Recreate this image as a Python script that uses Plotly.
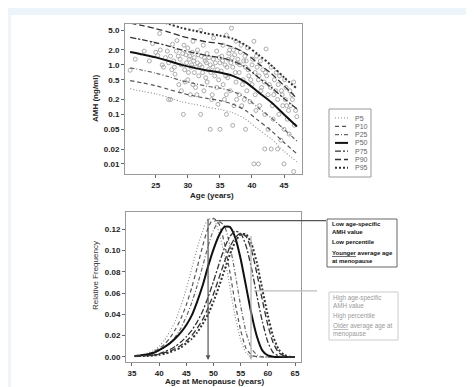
import plotly.graph_objects as go

W, H = 474, 387
def px(x):
    return x / W
def py(y):
    return 1 - y / H

# ---------------- Top panel data ----------------
pct_names = ["P5", "P10", "P25", "P50", "P75", "P90", "P95"]
curve_age = [21, 23, 25, 27, 29, 31, 33, 35, 37, 39, 41, 43, 45, 47]
amh_p5 = [0.33, 0.29, 0.26, 0.22, 0.18, 0.16, 0.14, 0.126, 0.108, 0.08, 0.05, 0.032, 0.018, 0.011]
amh_p10 = [0.48, 0.43, 0.38, 0.32, 0.27, 0.235, 0.21, 0.19, 0.16, 0.12, 0.075, 0.047, 0.027, 0.016]
amh_p25 = [0.87, 0.78, 0.68, 0.58, 0.48, 0.42, 0.37, 0.34, 0.29, 0.22, 0.135, 0.085, 0.05, 0.029]
amh_p50 = [1.83, 1.62, 1.42, 1.20, 1.00, 0.87, 0.77, 0.70, 0.60, 0.45, 0.28, 0.175, 0.10, 0.057]
amh_p75 = [3.6, 3.2, 2.8, 2.4, 2.0, 1.75, 1.55, 1.4, 1.2, 0.9, 0.56, 0.35, 0.21, 0.13]
amh_p90 = [7.0, 6.2, 5.4, 4.6, 3.8, 3.3, 2.9, 2.7, 2.3, 1.7, 1.06, 0.67, 0.38, 0.21]
amh_p95 = [10.2, 9.1, 8.0, 6.7, 5.6, 4.9, 4.3, 3.9, 3.4, 2.5, 1.6, 0.98, 0.56, 0.33]

pt_age = [21.0, 21.8, 23.2, 24.0, 24.5, 25.0, 25.3, 25.6, 25.7, 26.0, 26.2, 26.5, 26.8, 27.0, 27.0,
          27.3, 27.3, 27.5, 27.6, 27.8, 27.9, 28.0, 28.2, 28.3, 28.5, 28.6, 28.8, 29.0, 29.0, 29.2,
          29.3, 29.4, 29.5, 29.6, 29.7, 29.8, 30.0, 30.0, 30.1, 30.2, 30.3, 30.4, 30.5, 30.6, 30.7,
          30.8, 30.8, 30.9, 31.0, 31.0, 31.2, 31.3, 31.4, 31.5, 31.5, 31.6, 31.7, 31.9, 32.0, 32.0,
          32.1, 32.2, 32.3, 32.4, 32.5, 32.6, 32.7, 32.8, 32.9, 33.0, 33.0, 33.2, 33.3, 33.5, 33.5,
          33.6, 33.7, 33.8, 33.9, 34.0, 34.0, 34.2, 34.3, 34.5, 34.5, 34.6, 34.7, 34.8, 34.9, 35.0,
          35.0, 35.2, 35.3, 35.4, 35.5, 35.5, 35.7, 35.8, 35.9, 36.0, 36.0, 36.0, 36.1, 36.2, 36.3,
          36.4, 36.5, 36.6, 36.7, 36.8, 36.9, 37.0, 37.0, 37.1, 37.2, 37.3, 37.4, 37.5, 37.5, 37.6,
          37.7, 37.8, 38.0, 38.0, 38.1, 38.2, 38.3, 38.4, 38.5, 38.6, 38.7, 38.8, 38.9, 39.0, 39.0,
          39.1, 39.2, 39.3, 39.4, 39.5, 39.7, 39.8, 40.0, 40.0, 40.1, 40.3, 40.3, 40.5, 40.5, 40.6,
          40.7, 40.8, 41.0, 41.0, 41.1, 41.2, 41.3, 41.4, 41.5, 41.7, 41.9, 42.0, 42.0, 42.1, 42.2,
          42.3, 42.5, 42.5, 42.7, 42.9, 43.0, 43.0, 43.2, 43.3, 43.4, 43.5, 43.7, 43.8, 44.0, 44.0,
          44.1, 44.2, 44.3, 44.5, 44.6, 44.7, 44.8, 45.0, 45.0, 45.1, 45.2, 45.3, 45.4, 45.5, 45.7,
          45.8, 45.9, 46.0, 46.2, 46.3, 46.5, 46.5, 46.6, 46.8, 47.0]
pt_amh = [0.78, 1.3, 1.9, 1.2, 2.7, 1.8, 1.55, 4.3, 2.0, 1.0, 0.9, 1.4, 1.9, 0.2, 1.1,
          0.2, 1.5, 0.8, 2.6, 1.2, 0.9, 0.65, 1.9, 3.1, 1.5, 0.4, 1.3, 1.0, 0.3, 1.7,
          0.1, 2.5, 0.8, 0.45, 1.6, 1.1, 2.2, 0.5, 0.7, 1.3, 1.5, 0.25, 0.9, 1.0, 1.8,
          3.0, 0.4, 1.2, 0.7, 1.4, 0.35, 0.9, 0.25, 1.1, 2.0, 1.6, 0.6, 1.0, 5.0, 0.1,
          1.5, 0.9, 0.7, 2.5, 0.3, 1.4, 1.2, 0.55, 1.1, 0.45, 1.7, 0.8, 1.4, 0.05, 1.0,
          0.7, 0.2, 0.25, 0.9, 1.3, 3.5, 0.6, 1.1, 0.35, 1.9, 0.8, 0.16, 0.5, 1.4, 0.05,
          1.1, 0.75, 1.5, 1.2, 0.4, 2.5, 0.2, 1.0, 0.6, 4.0, 0.1, 0.25, 0.9, 0.55, 1.3,
          1.7, 2.0, 0.3, 1.1, 5.5, 1.4, 0.06, 0.9, 2.0, 0.15, 1.6, 0.7, 0.45, 3.0, 0.2,
          1.1, 1.3, 0.25, 0.7, 1.0, 1.8, 2.5, 0.15, 0.4, 0.5, 1.2, 0.2, 1.5, 0.05, 0.9,
          1.2, 0.3, 2.2, 0.8, 0.6, 0.18, 0.5, 1.0, 0.4, 1.3, 3.0, 0.01, 0.25, 0.7, 0.12,
          1.5, 0.9, 0.01, 0.5, 0.6, 0.15, 1.2, 0.3, 0.35, 0.8, 0.45, 0.1, 0.02, 0.7, 2.1,
          0.6, 0.25, 0.05, 0.4, 0.35, 0.02, 0.9, 0.15, 0.08, 0.25, 0.5, 0.3, 0.7, 0.02, 0.2,
          0.4, 0.1, 0.6, 0.03, 0.3, 0.25, 0.15, 0.01, 0.05, 0.5, 0.2, 0.35, 0.15, 0.08, 0.12,
          0.04, 0.3, 0.15, 0.25, 0.2, 0.007, 0.45, 0.06, 0.12, 0.09]

amh_tickvals = [5.0, 2.0, 1.0, 0.5, 0.2, 0.1, 0.05, 0.02, 0.01]
amh_ticktext = ["5.0", "2.0", "1.0", "0.5", "0.2", "0.1", "0.05", "0.02", "0.01"]
age_ticks = [25, 30, 35, 40, 45]

# ---------------- Bottom panel data ----------------
meno_age = [35.5, 36, 37, 38, 39, 40, 41, 42, 43, 44, 45, 46, 47, 48, 49, 50,
            51, 52, 53, 54, 55, 56, 57, 58, 59, 60, 61, 62, 63, 64, 65]
freq_p5 = [0.001, 0.0015, 0.0025, 0.004, 0.006, 0.010, 0.016, 0.024, 0.034, 0.048, 0.064, 0.083,
           0.102, 0.118, 0.129, 0.129, 0.117, 0.095, 0.066, 0.038, 0.016, 0.004, 0.001, 0, 0, 0, 0, 0, 0, 0, 0]
freq_p10 = [0.001, 0.0012, 0.002, 0.003, 0.005, 0.008, 0.012, 0.018, 0.026, 0.036, 0.049, 0.065,
            0.084, 0.104, 0.121, 0.130, 0.125, 0.107, 0.080, 0.050, 0.025, 0.008, 0.002, 0.0003, 0, 0, 0, 0, 0, 0, 0]
freq_p25 = [0.001, 0.001, 0.0015, 0.0025, 0.004, 0.006, 0.009, 0.013, 0.019, 0.027, 0.038, 0.051,
            0.067, 0.085, 0.104, 0.119, 0.127, 0.123, 0.105, 0.078, 0.048, 0.023, 0.008, 0.002, 0.0003, 0, 0, 0, 0, 0, 0]
freq_p50 = [0.001, 0.0012, 0.0018, 0.0025, 0.004, 0.0065, 0.0095, 0.013, 0.0175, 0.023, 0.030, 0.039,
            0.052, 0.067, 0.085, 0.101, 0.114, 0.122, 0.122, 0.112, 0.092, 0.066, 0.040, 0.019, 0.006, 0.0015, 0.0003, 0, 0, 0, 0]
freq_p75 = [0.001, 0.001, 0.001, 0.0015, 0.002, 0.003, 0.005, 0.007, 0.010, 0.014, 0.019, 0.025,
            0.033, 0.043, 0.056, 0.071, 0.087, 0.102, 0.113, 0.118, 0.116, 0.104, 0.083, 0.057, 0.033, 0.014, 0.004, 0.001, 0, 0, 0]
freq_p90 = [0.0008, 0.001, 0.001, 0.0012, 0.0018, 0.0025, 0.004, 0.0055, 0.008, 0.011, 0.015, 0.020,
            0.027, 0.035, 0.046, 0.059, 0.074, 0.089, 0.103, 0.112, 0.116, 0.113, 0.100, 0.078, 0.053, 0.030, 0.013, 0.004, 0.001, 0, 0]
freq_p95 = [0.0008, 0.001, 0.001, 0.001, 0.0015, 0.002, 0.003, 0.0045, 0.0065, 0.009, 0.013, 0.017,
            0.023, 0.031, 0.040, 0.052, 0.066, 0.081, 0.096, 0.108, 0.115, 0.115, 0.106, 0.088, 0.063, 0.039, 0.019, 0.007, 0.002, 0.0003, 0]
meno_ticks = [35, 40, 45, 50, 55, 60, 65]
freq_ticks = [0.00, 0.02, 0.04, 0.06, 0.08, 0.10, 0.12]

low_label = ["Low age-specific<br>AMH value", "Low percentile", "<u>Younger</u> average age<br>at menopause"]
high_label = ["High age-specific<br>AMH value", "High percentile", "<u>Older</u> average age at<br>menopause"]

# line styles per percentile
styles = {
    "P5": dict(color="#8a8a8a", width=1.1, dash="1px,2px"),
    "P10": dict(color="#555555", width=1.2, dash="4px,3px"),
    "P25": dict(color="#666666", width=1.2, dash="4px,2px,1px,2px"),
    "P50": dict(color="#111111", width=2.0, dash="solid"),
    "P75": dict(color="#333333", width=1.3, dash="6px,2px,2px,2px"),
    "P90": dict(color="#333333", width=1.3, dash="6px,3px"),
    "P95": dict(color="#333333", width=2.0, dash="2px,2px"),
}

FONT = "Liberation Sans, Arial, sans-serif"
fig = go.Figure()

fig.add_trace(go.Scatter(x=pt_age, y=pt_amh, mode="markers", xaxis="x", yaxis="y",
                         marker=dict(symbol="circle-open", size=4, color="#a3a3a3", line=dict(width=0.9)),
                         showlegend=False, hoverinfo="skip"))
top_curves = [amh_p5, amh_p10, amh_p25, amh_p50, amh_p75, amh_p90, amh_p95]
for name, vals in zip(pct_names, top_curves):
    fig.add_trace(go.Scatter(x=curve_age, y=vals, mode="lines", xaxis="x", yaxis="y",
                             line=dict(shape="spline", smoothing=0.8, **styles[name]),
                             name=name, showlegend=False))

bot_curves = [freq_p5, freq_p10, freq_p25, freq_p50, freq_p75, freq_p90, freq_p95]
for name, vals in zip(pct_names, bot_curves):
    fig.add_trace(go.Scatter(x=meno_age, y=vals, mode="lines", xaxis="x2", yaxis="y2",
                             line=dict(shape="spline", smoothing=0.6, **styles[name]),
                             name=name, showlegend=False))

axis_common = dict(showline=True, mirror=True, linecolor="#999999", linewidth=1,
                   ticks="outside", ticklen=3, tickcolor="#666666", tickwidth=1,
                   showgrid=False, zeroline=False,
                   tickfont=dict(family=FONT, size=8, color="#222222", weight="bold"))

fig.update_layout(
    width=W, height=H, autosize=False,
    margin=dict(l=0, r=0, t=0, b=0),
    paper_bgcolor="#edf4fa", plot_bgcolor="white",
    font=dict(family=FONT),
    showlegend=False,
    xaxis=dict(domain=[px(117), px(294)], range=[20.2, 47.8], anchor="y",
               tickvals=age_ticks, **axis_common),
    yaxis=dict(domain=[py(166), py(16)], type="log", range=[-2.204, 0.826], anchor="x",
               tickvals=amh_tickvals, ticktext=amh_ticktext, **axis_common),
    xaxis2=dict(domain=[px(118), px(293)], range=[33.9, 66.1], anchor="y2",
                tickvals=meno_ticks, **axis_common),
    yaxis2=dict(domain=[py(354), py(204)], range=[-0.0047, 0.136], anchor="x2",
                tickvals=freq_ticks, tickformat=".2f", **axis_common),
)

shapes = []
annos = []
# white page panel
shapes.append(dict(type="rect", xref="paper", yref="paper", x0=px(3), x1=px(467), y0=py(380), y1=py(7),
                   fillcolor="white", line=dict(width=0), layer="below"))

# axis titles
title_font = dict(family=FONT, size=8, color="#222222", weight="bold")
annos.append(dict(text="AMH (ng/ml)", xref="paper", yref="paper", x=px(87), y=py(91), textangle=-90,
                  showarrow=False, font=title_font, xanchor="center", yanchor="middle"))
annos.append(dict(text="Age (years)", xref="paper", yref="paper", x=px(204), y=py(187),
                  showarrow=False, font=title_font, xanchor="center", yanchor="middle"))
annos.append(dict(text="Relative Frequency", xref="paper", yref="paper", x=px(87), y=py(268), textangle=-90,
                  showarrow=False, font=dict(family=FONT, size=8, color="#333333"),
                  xanchor="center", yanchor="middle"))
annos.append(dict(text="Age at Menopause (years)", xref="paper", yref="paper", x=px(206), y=py(373),
                  showarrow=False, font=title_font, xanchor="center", yanchor="middle"))

# legend (manual)
shapes.append(dict(type="rect", xref="paper", yref="paper", x0=px(321), x1=px(363), y0=py(169), y1=py(101),
                   fillcolor="white", line=dict(color="#999999", width=1)))
for i, name in enumerate(pct_names):
    yy = 110 + i * 8.3
    st = styles[name]
    shapes.append(dict(type="line", xref="paper", yref="paper", x0=px(327), x1=px(340), y0=py(yy), y1=py(yy),
                       line=dict(color=st["color"], width=st["width"], dash=st["dash"])))
    annos.append(dict(text=name, xref="paper", yref="paper", x=px(345), y=py(yy), showarrow=False,
                      xanchor="left", yanchor="middle", font=dict(family=FONT, size=7, color="#666666")))

# arrows in bottom panel
annos.append(dict(text="", x=49.0, y=-0.0028, xref="x2", yref="y2", ax=49.0, ay=0.131, axref="x2", ayref="y2",
                  showarrow=True, arrowhead=2, arrowsize=0.8, arrowwidth=1.2, arrowcolor="#555555"))
annos.append(dict(text="", x=56.9, y=-0.0028, xref="x2", yref="y2", ax=56.9, ay=0.115, axref="x2", ayref="y2",
                  showarrow=True, arrowhead=2, arrowsize=0.8, arrowwidth=1.2, arrowcolor="#b0b0b0"))
shapes.append(dict(type="line", xref="paper", yref="y2", x0=px(207), x1=px(318), y0=0.128, y1=0.128,
                   line=dict(color="#555555", width=1.2)))
shapes.append(dict(type="line", xref="paper", yref="y2", x0=px(246), x1=px(309), y0=0.062, y1=0.062,
                   line=dict(color="#bbbbbb", width=1.2)))

# label boxes
shapes.append(dict(type="rect", xref="paper", yref="paper", x0=px(319), x1=px(389), y0=py(259), y1=py(211),
                   fillcolor="white", line=dict(color="#666666", width=1)))
shapes.append(dict(type="rect", xref="paper", yref="paper", x0=px(321), x1=px(390), y0=py(332), y1=py(284),
                   fillcolor="white", line=dict(color="#cccccc", width=1)))
low_y = [219.5, 234, 249.5]
high_y = [293, 308, 322]
for txt, yy in zip(low_label, low_y):
    annos.append(dict(text=txt, xref="paper", yref="paper", x=px(321.5), y=py(yy), showarrow=False,
                      xanchor="left", yanchor="middle", align="left",
                      font=dict(family=FONT, size=6, color="#111111", weight="bold")))
for txt, yy in zip(high_label, high_y):
    annos.append(dict(text=txt, xref="paper", yref="paper", x=px(323), y=py(yy), showarrow=False,
                      xanchor="left", yanchor="middle", align="left",
                      font=dict(family=FONT, size=6.3, color="#999999")))

fig.update_layout(shapes=shapes, annotations=annos)
fig.write_html("out.html")
